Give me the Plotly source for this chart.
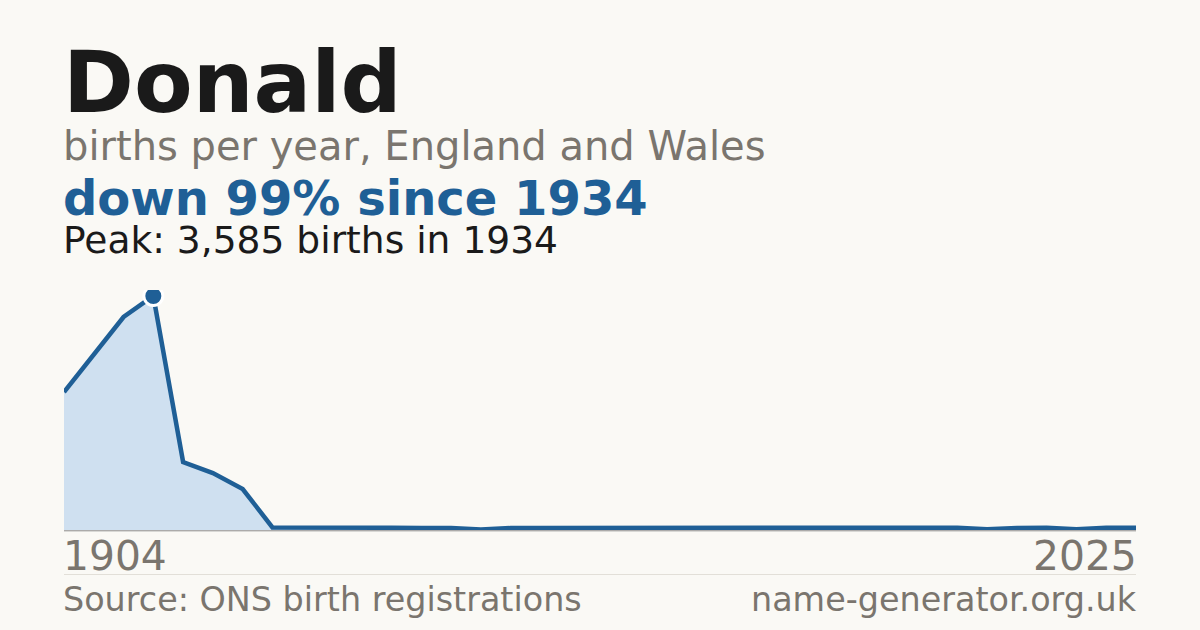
import plotly.graph_objects as go

# ---- data ----
years = [1904, 1914, 1924, 1934, 1944, 1954, 1964, 1974,
         1997, 1998, 1999, 2000, 2001, 2002, 2003, 2004, 2005, 2006,
         2007, 2008, 2009, 2010, 2011, 2012, 2013, 2014, 2015, 2016,
         2017, 2018, 2019, 2020, 2021, 2022, 2023, 2024, 2025]
births = [2114, 2681, 3263, 3585, 1042, 873, 628, 40,
          35, 34, 33, 34, 32, 30, 8, 30, 32, 33,
          34, 33, 34, 35, 48, 35, 34, 33, 34, 33,
          32, 33, 34, 10, 32, 33, 12, 33, 34]
name = "Donald"
subtitle = "births per year, England and Wales"
headline = "down 99% since 1934"
peak_text = "Peak: 3,585 births in 1934"
source_text = "Source: ONS birth registrations"
site_text = "name-generator.org.uk"

BG = "#faf9f5"
BLUE = "#1f5f96"
FILL = "#cfe0f0"
GRAY = "#7a756e"
DARK = "#1a1a1a"
FONT = "DejaVu Sans"

idx = list(range(len(years)))
peak_i = births.index(max(births))

T, B = 290, 100
H = 630 - T - B  # plot height in px

def py(px):
    """pixel y (from top) -> paper y"""
    return (630 - B - px) / H

fig = go.Figure()
fig.add_trace(go.Scatter(
    x=idx, y=births, mode="lines",
    line=dict(color=BLUE, width=4.5),
    fill="tozeroy", fillcolor=FILL,
    hoverinfo="skip", showlegend=False,
))
fig.add_trace(go.Scatter(
    x=[idx[peak_i]], y=[births[peak_i]], mode="markers",
    marker=dict(color=BLUE, size=19, line=dict(color="white", width=3)),
    hoverinfo="skip", showlegend=False,
))

ann = []
def text(x, xref, xanchor, baseline, size, color, s, bold=False):
    ann.append(dict(
        x=x, xref=xref, xanchor=xanchor,
        xshift=-2 if xanchor == "left" else 2,
        y=py(baseline + 0.236 * size + 1), yref="paper", yanchor="bottom",
        text=f"<b>{s}</b>" if bold else s, showarrow=False, borderpad=0,
        font=dict(family=FONT, size=size, color=color),
    ))

text(0, "paper", "left", 111.7, 85.5, DARK, name, bold=True)
text(0, "paper", "left", 159.5, 40, GRAY, subtitle)
text(0, "paper", "left", 215, 48, BLUE, headline, bold=True)
text(0, "paper", "left", 253, 37.6, DARK, peak_text)
text(idx[0], "x", "left", 570, 40.8, GRAY, str(years[0]))
text(idx[-1], "x", "right", 570, 40.8, GRAY, str(years[-1]))
text(0, "paper", "left", 611, 33.4, GRAY, source_text)
text(1, "paper", "right", 611, 33.4, GRAY, site_text)

fig.update_layout(
    width=1200, height=630,
    paper_bgcolor=BG, plot_bgcolor=BG,
    margin=dict(l=64, r=64, t=T, b=B),
    xaxis=dict(range=[idx[0], idx[-1]], visible=False, fixedrange=True),
    yaxis=dict(range=[0, max(births) * 240 / 234], visible=False, fixedrange=True),
    annotations=ann,
    shapes=[
        dict(type="line", xref="paper", yref="paper", x0=0, x1=1,
             y0=py(530.8), y1=py(530.8), line=dict(color="#8a8a8a", width=1)),
        dict(type="line", xref="paper", yref="paper", x0=0, x1=1,
             y0=py(574.5), y1=py(574.5), line=dict(color="#e2dfd8", width=1)),
    ],
)

fig.write_html(
    "out.html",
    config={"displayModeBar": False, "staticPlot": True},
    post_script="document.body.style.margin='0';document.body.style.background='" + BG + "';",
)
